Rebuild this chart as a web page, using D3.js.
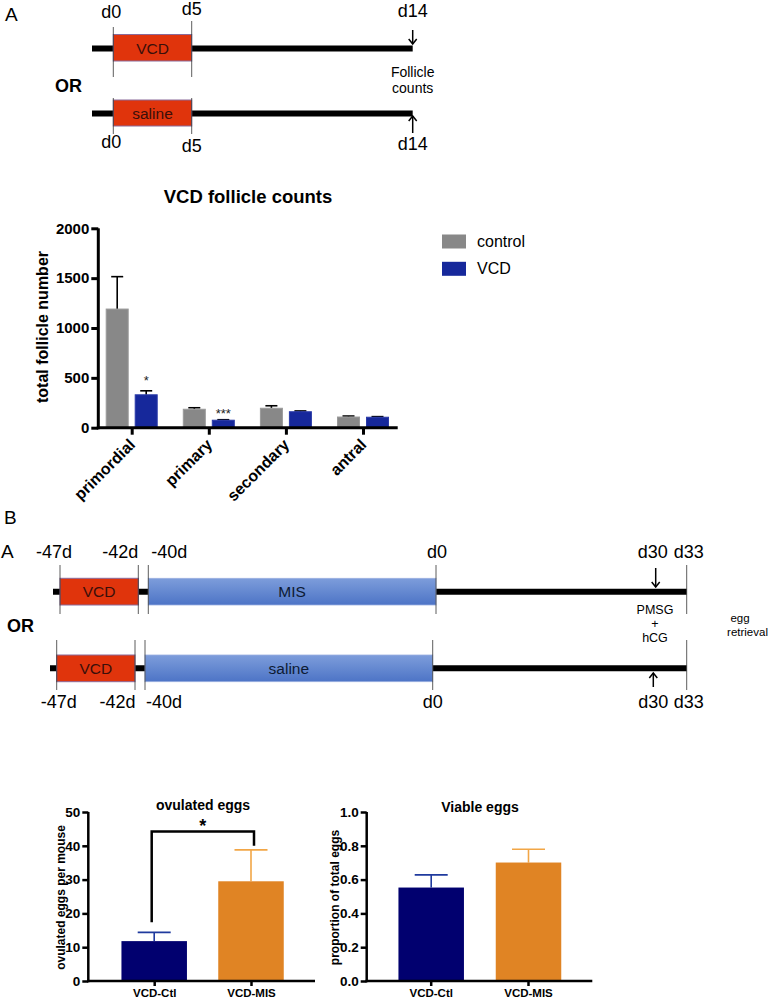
<!DOCTYPE html>
<html><head><meta charset="utf-8">
<script src="https://cdn.jsdelivr.net/npm/d3@7"></script>
<style>
body{margin:0;background:#fff;}
svg{display:block;}
text{font-family:"Liberation Sans",Arial,sans-serif;}
</style></head>
<body><svg id="c" width="768" height="998"></svg>
<script>
// ---------- DATA ----------
// Panel A timeline (days)
const tlA_days = [-1, 0, 5, 14];
const tlA_labels = ["d0", "d5", "d14"];
const tlA_treatments = ["VCD", "saline"];
// Follicle counts
const follicleCategories = ["primordial", "primary", "secondary", "antral"];
const controlMeans = [1190, 185, 195, 107];
const controlErr = [325, 15, 25, 10];
const vcdMeans = [330, 75, 160, 105];
const vcdErr = [40, 5, 8, 6];
const follicleSig = ["*", "***", "", ""];
const follicleTicks = [0, 500, 1000, 1500, 2000];
const legendLabels = ["control", "VCD"];
// Panel B timeline (days)
const tlB_days = [-48, -47, -42, -40, 0, 30, 33];
const tlB_labels = ["-47d", "-42d", "-40d", "d0", "d30", "d33"];
const tlB_treatments = ["MIS", "saline"];
// Ovulated eggs
const eggGroups = ["VCD-Ctl", "VCD-MIS"];
const ovulatedMeans = [11.8, 29.5];
const ovulatedErr = [2.6, 9.3];
const ovulatedTicks = [0, 10, 20, 30, 40, 50];
// Viable eggs
const viableMeans = [0.553, 0.701];
const viableErr = [0.075, 0.079];
const viableTicks = [0, 0.2, 0.4, 0.6, 0.8, 1.0];

// ---------- DRAW ----------
const svg = d3.select("#c");
const RED = "#e0340c", RED_STROKE = "#8a6a9a";
const GRAY = "#888888", BLUE = "#16289b";
const NAVY = "#01006f", ORANGE = "#e08424";

function txt(g, x, y, s, opt = {}) {
  return g.append("text").attr("x", x).attr("y", y).text(s)
    .attr("font-size", opt.size || 15)
    .attr("font-weight", opt.weight || "normal")
    .attr("text-anchor", opt.anchor || "middle")
    .attr("fill", opt.fill || "#000")
    .attr("font-family", opt.family || null);
}
function arrow(g, x, y1, y2) {
  g.append("line").attr("x1", x).attr("x2", x).attr("y1", y1).attr("y2", y2)
    .attr("stroke", "#000").attr("stroke-width", 1.5);
  const d = y2 > y1 ? -1 : 1;
  g.append("path").attr("d", `M${x - 4},${y2 + d * 5}L${x},${y2}L${x + 4},${y2 + d * 5}`)
    .attr("fill", "none").attr("stroke", "#000").attr("stroke-width", 1.5);
}

// ===== Panel A timeline =====
{
  const g = svg.append("g");
  txt(g, 5, 21, "A", {anchor: "start", size: 19});
  const xA = d3.scaleLinear().domain(tlA_days).range([92, 113.3, 191.7, 412.7]);
  const rows = [{y: 48.5, box: [34.5, 61]}, {y: 113.5, box: [100, 126]}];
  rows.forEach((r, i) => {
    g.append("line").attr("x1", xA(-1)).attr("x2", xA(14)).attr("y1", r.y).attr("y2", r.y)
      .attr("stroke", "#000").attr("stroke-width", 6);
    g.append("rect").attr("x", xA(0)).attr("y", r.box[0]).attr("width", xA(5) - xA(0))
      .attr("height", r.box[1] - r.box[0]).attr("fill", RED).attr("stroke", RED_STROKE).attr("stroke-width", 1);
    txt(g, (xA(0) + xA(5)) / 2, r.y + 5.5, tlA_treatments[i], {size: 15.5, fill: "#3a0f0a", family: "Lato, 'Open Sans', sans-serif"});
  });
  // vertical markers
  [[27, 77], [98, 134]].forEach(([a, b]) => {
    g.append("line").attr("x1", xA(0)).attr("x2", xA(0)).attr("y1", a).attr("y2", b).attr("stroke", "#333").attr("stroke-width", 0.8);
  });
  [[21, 77], [98, 134]].forEach(([a, b]) => {
    g.append("line").attr("x1", xA(5)).attr("x2", xA(5)).attr("y1", a).attr("y2", b).attr("stroke", "#333").attr("stroke-width", 0.8);
  });
  txt(g, xA(0) - 2, 18, tlA_labels[0], {size: 18});
  txt(g, xA(5), 15, tlA_labels[1], {size: 18});
  txt(g, xA(14), 17, tlA_labels[2], {size: 18});
  txt(g, xA(0) - 2, 148, tlA_labels[0], {size: 18});
  txt(g, xA(5), 152, tlA_labels[1], {size: 18});
  txt(g, xA(14), 150, tlA_labels[2], {size: 18});
  arrow(g, xA(14), 30, 44);
  arrow(g, xA(14), 133, 116);
  txt(g, 55, 92, "OR", {anchor: "start", size: 18, weight: "bold"});
  txt(g, xA(14), 77, "Follicle", {size: 14});
  txt(g, xA(14), 93, "counts", {size: 14});
}

// ===== Follicle bar chart =====
{
  const g = svg.append("g");
  const y = d3.scaleLinear().domain([0, 2000]).range([427.7, 228.3]);
  const x = d3.scalePoint().domain(follicleCategories).range([131.7, 363]);
  const bw = 22, gap = 3.5;
  txt(g, 248, 203, "VCD follicle counts", {size: 18.5, weight: "bold"});
  // bars
  const series = [
    {means: controlMeans, err: controlErr, color: GRAY, stroke: "#9a9a9a", off: -gap - bw},
    {means: vcdMeans, err: vcdErr, color: BLUE, stroke: "#2a3aa8", off: gap}
  ];
  series.forEach(s => {
    follicleCategories.forEach((c, i) => {
      const bx = x(c) + s.off;
      const top = y(s.means[i]) , et = y(s.means[i] + s.err[i]);
      g.append("line").attr("x1", bx + bw / 2).attr("x2", bx + bw / 2).attr("y1", top).attr("y2", et)
        .attr("stroke", "#000").attr("stroke-width", 1.6);
      g.append("line").attr("x1", bx + bw / 2 - 6).attr("x2", bx + bw / 2 + 6).attr("y1", et).attr("y2", et)
        .attr("stroke", "#000").attr("stroke-width", 1.6);
      g.append("rect").attr("x", bx).attr("y", top).attr("width", bw).attr("height", y(0) - top)
        .attr("fill", s.color).attr("stroke", s.stroke).attr("stroke-width", 1);
    });
  });
  follicleCategories.forEach((c, i) => {
    if (follicleSig[i]) {
      txt(g, x(c) + gap + bw / 2, y(vcdMeans[i] + vcdErr[i]) - 6 + (i === 1 ? 4 : 0), follicleSig[i], {size: 13, fill: "#222"});
    }
  });
  // y axis
  const ya = g.append("g").attr("transform", "translate(98.3,0)")
    .call(d3.axisLeft(y).tickValues(follicleTicks).tickFormat(d3.format("d")).tickSize(7).tickPadding(2));
  ya.select(".domain").attr("stroke-width", 3).attr("d", `M0,${y(2000)}V${y(0) + 1.5}`);
  ya.selectAll(".tick line").attr("stroke-width", 3);
  ya.selectAll(".tick text").attr("font-size", 15).attr("font-weight", "bold").attr("font-family", "Liberation Sans, Arial");
  // x axis
  const xa = g.append("g").attr("transform", `translate(0,${y(0)})`).call(d3.axisBottom(x).tickSize(7).tickPadding(4));
  xa.select(".domain").attr("stroke-width", 3).attr("d", `M96.8,0H397.7`);
  xa.selectAll(".tick line").attr("stroke-width", 3);
  xa.selectAll(".tick text").attr("font-size", 16).attr("font-weight", "bold").attr("font-family", "Liberation Sans, Arial")
    .attr("text-anchor", "end").attr("x", 0).attr("y", 0).attr("dy", "0.35em")
    .attr("transform", "translate(0,14) rotate(-45)");
  // y title
  g.append("text").attr("transform", "translate(48,327) rotate(-90)").attr("text-anchor", "middle")
    .attr("font-size", 16).attr("font-weight", "bold").text("total follicle number");
  // legend
  legendLabels.forEach((l, i) => {
    g.append("rect").attr("x", 442).attr("y", 234.5 + i * 27.3).attr("width", 24).attr("height", 14)
      .attr("fill", i === 0 ? GRAY : BLUE);
    txt(g, 477, 247 + i * 27.3, l, {anchor: "start", size: 16});
  });
}

// ===== Panel B timeline =====
{
  const g = svg.append("g");
  txt(g, 4, 524, "B", {anchor: "start", size: 19});
  txt(g, 1, 558, "A", {anchor: "start", size: 19});
  const rows = [
    {range: [53, 60, 138.3, 148.3, 436, 655.7, 686.7], y: 591.7, box: [578.3, 605], vl: [565, 614]},
    {range: [50, 56.7, 135, 145, 432.7, 653.3, 686.7], y: 668.3, box: [655, 681.7], vl: [640, 690]}
  ];
  rows.forEach((r, i) => {
    const x = d3.scaleLinear().domain(tlB_days).range(r.range);
    g.append("line").attr("x1", x(-48)).attr("x2", x(33)).attr("y1", r.y).attr("y2", r.y)
      .attr("stroke", "#000").attr("stroke-width", 6);
    g.append("rect").attr("x", x(-47)).attr("y", r.box[0]).attr("width", x(-42) - x(-47))
      .attr("height", r.box[1] - r.box[0]).attr("fill", RED).attr("stroke", RED_STROKE).attr("stroke-width", 1);
    txt(g, (x(-47) + x(-42)) / 2, r.y + 5.5, "VCD", {size: 15.5, fill: "#3a0f0a", family: "Lato, 'Open Sans', sans-serif"});
    const grad = svg.append("defs").append("linearGradient").attr("id", "bg" + i).attr("x1", 0).attr("x2", 0).attr("y1", 0).attr("y2", 1);
    grad.append("stop").attr("offset", 0).attr("stop-color", "#7d9ddb");
    grad.append("stop").attr("offset", 1).attr("stop-color", "#4d74c6");
    g.append("rect").attr("x", x(-40)).attr("y", r.box[0]).attr("width", x(0) - x(-40))
      .attr("height", r.box[1] - r.box[0]).attr("fill", `url(#bg${i})`).attr("stroke", "#9bb0e0").attr("stroke-width", 0.8);
    txt(g, (x(-40) + x(0)) / 2, r.y + 5.5, tlB_treatments[i], {size: 15.5, fill: "#0d1a33", family: "Lato, 'Open Sans', sans-serif"});
    [-47, -42, -40, 0, 33].forEach(d => {
      g.append("line").attr("x1", x(d)).attr("x2", x(d)).attr("y1", r.vl[0]).attr("y2", r.vl[1])
        .attr("stroke", "#333").attr("stroke-width", 0.8);
    });
    const ly = i === 0 ? 558 : 708;
    const offs = i === 0 ? [-6, -18, 21, 1, -3, 2] : [2, -17.5, 19, 0, 0, 2];
    [-47, -42, -40, 0, 30, 33].forEach((d, k) => {
      txt(g, x(d) + offs[k], ly, tlB_labels[k], {size: 18});
    });
    if (i === 0) arrow(g, x(30), 568, 587); else arrow(g, x(30), 687, 673);
  });
  txt(g, 7, 632, "OR", {anchor: "start", size: 18, weight: "bold"});
  txt(g, 655, 614, "PMSG", {size: 12.5});
  txt(g, 655, 628, "+", {size: 12.5});
  txt(g, 655, 642, "hCG", {size: 12.5});
  txt(g, 740, 622, "egg", {size: 11.5});
  txt(g, 747.5, 636, "retrieval", {size: 11.5});
}

// ===== Bottom bar charts =====
function eggChart(cfg) {
  const g = svg.append("g");
  const y = d3.scaleLinear().domain(cfg.domain).range([981, 812]);
  const x = d3.scalePoint().domain(eggGroups).range(cfg.ticksX);
  const bw = 65.5;
  const colors = [NAVY, ORANGE], errColors = ["#1f3a9e", "#f2a646"];
  txt(g, cfg.titleX, cfg.titleY, cfg.title, {size: 14, weight: "bold"});
  eggGroups.forEach((c, i) => {
    const cx = x(c) + cfg.barOff, top = y(cfg.means[i]), et = y(cfg.means[i] + cfg.err[i]);
    g.append("line").attr("x1", cx).attr("x2", cx).attr("y1", top).attr("y2", et).attr("stroke", errColors[i]).attr("stroke-width", 1.6);
    g.append("line").attr("x1", cx - 16.5).attr("x2", cx + 16.5).attr("y1", et).attr("y2", et).attr("stroke", errColors[i]).attr("stroke-width", 1.6);
    g.append("rect").attr("x", cx - bw / 2).attr("y", top).attr("width", bw).attr("height", y(0) - top).attr("fill", colors[i]);
  });
  const ya = g.append("g").attr("transform", `translate(${cfg.axisX},0)`)
    .call(d3.axisLeft(y).tickValues(cfg.ticks).tickFormat(cfg.fmt).tickSize(6).tickPadding(2));
  ya.select(".domain").attr("stroke-width", 2.5).attr("d", `M0,${y(cfg.domain[1])}V${y(0) + 1.2}`);
  ya.selectAll(".tick line").attr("stroke-width", 2.5);
  ya.selectAll(".tick text").attr("font-size", 13.5).attr("font-weight", "bold").attr("font-family", "Liberation Sans, Arial");
  const xa = g.append("g").attr("transform", `translate(0,${y(0)})`).call(d3.axisBottom(x).tickSize(5).tickPadding(3));
  xa.select(".domain").attr("stroke-width", 2.5).attr("d", `M${cfg.axisX - 1.2},0H${cfg.axisEnd}`);
  xa.selectAll(".tick line").attr("stroke-width", 2.5);
  xa.selectAll(".tick text").attr("font-size", 11.5).attr("font-weight", "bold").attr("font-family", "Liberation Sans, Arial");
  g.append("text").attr("transform", `translate(${cfg.ytX},897.5) rotate(-90)`).attr("text-anchor", "middle")
    .attr("font-size", 12).attr("font-weight", "bold").text(cfg.ytitle);
  return {g, x, y};
}
{
  const c = eggChart({domain: [0, 50], ticks: ovulatedTicks, fmt: d3.format("d"), means: ovulatedMeans, err: ovulatedErr,
    ticksX: [154.2, 251], barOff: 0, axisX: 88.3, axisEnd: 315, title: "ovulated eggs", titleX: 203, titleY: 810,
    ytitle: "ovulated eggs per mouse", ytX: 64.5});
  // significance bracket
  const x1 = 151.7, x2 = 254;
  c.g.append("path").attr("d", `M${x1},${c.y(ovulatedMeans[0] + ovulatedErr[0] + 3)}V${c.y(44.2)}H${x2}V${c.y(40)}`)
    .attr("fill", "none").attr("stroke", "#000").attr("stroke-width", 2.5);
  txt(c.g, 202.7, 832, "*", {size: 18, weight: "bold"});
}
{
  eggChart({domain: [0, 1], ticks: viableTicks, fmt: d3.format(".1f"), means: viableMeans, err: viableErr,
    ticksX: [430.7, 528], barOff: 0.5, axisX: 366.7, axisEnd: 592.3, title: "Viable eggs", titleX: 480, titleY: 811.5,
    ytitle: "proportion of total eggs", ytX: 339});
}
</script></body></html>
